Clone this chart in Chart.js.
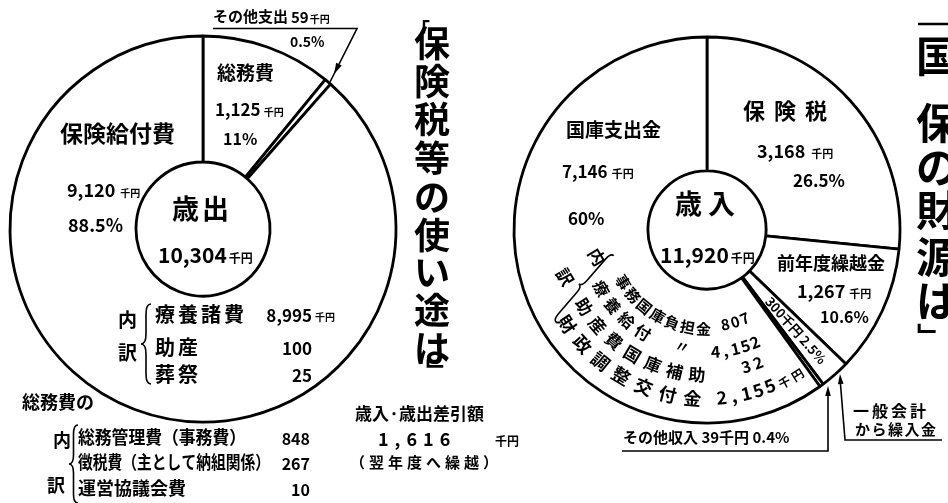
<!DOCTYPE html>
<html>
<head>
<meta charset="utf-8">
<script src="https://cdn.jsdelivr.net/npm/chart.js@4/dist/chart.umd.min.js"></script>
<style>
  html, body { margin: 0; padding: 0; background: #fff; }
  #wrap { position: relative; width: 948px; height: 503px; overflow: hidden; }
  #wrap canvas { position: absolute; left: 0; top: 0; }
</style>
</head>
<body>
<div id="wrap">
  <canvas id="outChart" width="948" height="503" style="width:948px;height:503px"></canvas>
  <canvas id="inChart" width="948" height="503" style="width:948px;height:503px"></canvas>
</div>
<script>
const FONT = '"Noto Sans CJK JP", "Noto Sans", sans-serif';

// 歳出
const outLabels = ['総務費', 'その他支出', '保険給付費'];
const outValues = [1125, 59, 9120];
const outPct = ['11%', '0.5%', '88.5%'];
const outTotal = 10304;
// 保険給付費の内訳
const kyufuItems = ['療養諸費', '助産', '葬祭'];
const kyufuValues = [8995, 100, 25];
// 総務費の内訳
const somuItems = ['総務管理費（事務費）', '徴税費（主として納組関係）', '運営協議会費'];
const somuValues = [848, 267, 10];
const balance = 1616;

// 歳入
const inLabels = ['保険税', '前年度繰越金', '一般会計から繰入金', 'その他収入', '国庫支出金'];
const inValues = [3168, 1267, 300, 39, 7146];
const inPct = ['26.5%', '10.6%', '2.5%', '0.4%', '60%'];
const inTotal = 11920;
// 国庫支出金の内訳
const kokkoItems = ['事務国庫負担金', '療養給付', '助産費国庫補助', '財政調整交付金'];
const kokkoValues = [807, 4152, 32, 2155];

const titleOut = '保険税等の使い途は';
const titleIn = '国保の財源は';

function fmt(n) { return n.toLocaleString('en-US'); }

function put(ctx, s, x, y, size, o = {}) {
  ctx.font = `700 ${size}px ${FONT}`;
  ctx.textAlign = o.align || 'left';
  ctx.textBaseline = 'alphabetic';
  if (o.sp) {
    let cx = x;
    ctx.textAlign = 'left';
    for (const ch of s) {
      ctx.fillText(ch, cx, y);
      cx += ctx.measureText(ch).width + o.sp;
    }
    return cx - o.sp;
  }
  const w = ctx.measureText(s).width;
  if (o.max) ctx.fillText(s, x, y, o.max); else ctx.fillText(s, x, y);
  return x + (o.max ? Math.min(o.max, w) : w);
}

function money(ctx, n, x, y, size, usize, gap) {
  const e = put(ctx, fmt(n), x, y, size);
  return put(ctx, '千円', e + (gap || 2), y, usize);
}

function line(ctx, pts) {
  ctx.beginPath();
  ctx.moveTo(pts[0][0], pts[0][1]);
  for (let i = 1; i < pts.length; i++) ctx.lineTo(pts[i][0], pts[i][1]);
  ctx.stroke();
}

function arrow(ctx, x, y, ang, len) {
  ctx.save();
  ctx.translate(x, y);
  ctx.rotate(ang);
  ctx.beginPath();
  ctx.moveTo(0, 0);
  ctx.lineTo(-len, -len / 3.5);
  ctx.lineTo(-len, len / 3.5);
  ctx.closePath();
  ctx.fill();
  ctx.restore();
}

function brace(ctx, x, y, len, d, ang) {
  ctx.save();
  ctx.translate(x, y);
  ctx.rotate(ang);
  const h = len / 2, q = Math.min(d, h / 3);
  ctx.beginPath();
  ctx.moveTo(-h, 0);
  ctx.quadraticCurveTo(-h, d / 2, -h + q, d / 2);
  ctx.lineTo(-q, d / 2);
  ctx.quadraticCurveTo(0, d / 2, 0, d);
  ctx.quadraticCurveTo(0, d / 2, q, d / 2);
  ctx.lineTo(h - q, d / 2);
  ctx.quadraticCurveTo(h, d / 2, h, 0);
  ctx.stroke();
  ctx.restore();
}

function rotText(ctx, s, x, y, size, deg) {
  ctx.save();
  ctx.translate(x, y);
  ctx.rotate(deg * Math.PI / 180);
  ctx.font = `700 ${size}px ${FONT}`;
  ctx.textAlign = 'center';
  ctx.textBaseline = 'middle';
  ctx.fillText(s, 0, 0);
  ctx.restore();
}

// text on the lower arc, char centres spread from angle a0 to a1 (deg, clockwise from top)
function arcText(ctx, c, s, r, a0, a1, size) {
  const chars = [...s];
  const n = chars.length;
  chars.forEach((ch, i) => {
    const a = n > 1 ? a0 + (a1 - a0) * i / (n - 1) : a0;
    const t = a * Math.PI / 180;
    rotText(ctx, ch, c.x + r * Math.sin(t), c.y - r * Math.cos(t), size, a - 180);
  });
}

function vertical(ctx, s, x, ys, size) {
  ctx.font = `700 ${size}px ${FONT}`;
  ctx.textAlign = 'center';
  ctx.textBaseline = 'middle';
  [...s].forEach((ch, i) => ctx.fillText(ch, x, ys[i]));
}

const outText = {
  id: 'outText',
  afterDraw(chart) {
    const ctx = chart.ctx;
    ctx.save();
    ctx.fillStyle = '#000';
    ctx.strokeStyle = '#000';
    ctx.lineWidth = 1.6;

    // その他支出
    let e = put(ctx, outLabels[1], 213, 22, 15);
    e = put(ctx, String(outValues[1]), e + 3, 23, 15);
    put(ctx, '千円', e + 1, 23, 10);
    put(ctx, outPct[1], 290, 47, 14);
    line(ctx, [[213, 28.5], [357, 28.5], [329, 84]]);
    arrow(ctx, 334, 74, Math.atan2(55, -28), 11);

    // 総務費
    put(ctx, outLabels[0], 217, 80, 19);
    money(ctx, outValues[0], 215, 116, 17, 10, 3);
    put(ctx, outPct[0], 223, 145, 16);

    // 保険給付費
    put(ctx, outLabels[2], 60, 142, 23);
    money(ctx, outValues[2], 67, 197, 18, 10, 5);
    put(ctx, outPct[2], 68, 232, 18);

    // centre
    put(ctx, '歳', 172, 219, 27);
    put(ctx, '出', 202, 219, 27);
    money(ctx, outTotal, 158, 263, 21, 12, 2);

    // 内訳 (保険給付費)
    put(ctx, '内', 118, 327, 19);
    put(ctx, '訳', 118, 360, 19);
    brace(ctx, 151, 344, 80, 10, Math.PI / 2);
    const ky = [322, 355, 382];
    kyufuItems.forEach((s, i) => {
      put(ctx, s, 155, ky[i], 20, { sp: 3 });
      put(ctx, fmt(kyufuValues[i]), 312, ky[i], 17, { align: 'right' });
    });
    put(ctx, '千円', 315, 321, 10);

    // 総務費の内訳
    put(ctx, outLabels[0] + 'の', 22, 409, 18);
    put(ctx, '内', 53, 447, 18);
    put(ctx, '訳', 47, 492, 18);
    brace(ctx, 78, 464, 78, 9, Math.PI / 2);
    const sy = [444, 469, 495];
    const sw = [168, 192, 130];
    somuItems.forEach((s, i) => {
      put(ctx, s, 78, sy[i], 18, { max: sw[i] });
      put(ctx, fmt(somuValues[i]), 310, sy[i] + 1, 16, { align: 'right' });
    });

    // 差引額
    put(ctx, '歳入·歳出差引額', 355, 420, 17, { max: 165 });
    put(ctx, fmt(balance), 378, 446, 18, { sp: 6 });
    put(ctx, '千円', 495, 446, 12);
    put(ctx, '（翌年度へ繰越）', 350, 468, 15, { sp: 4 });

    // title
    vertical(ctx, titleOut, 432, [43, 81, 119, 158, 197, 235, 272, 310, 348], 36);
    put(ctx, '「', 410, 38, 20);
    ctx.font = `700 24px ${FONT}`;
    ctx.fillText('﹂', 426, 380);
    ctx.restore();
  }
};

const inText = {
  id: 'inText',
  afterDraw(chart) {
    const ctx = chart.ctx;
    const c = chart.getDatasetMeta(0).data[0];
    ctx.save();
    ctx.fillStyle = '#000';
    ctx.strokeStyle = '#000';
    ctx.lineWidth = 1.6;

    // 国庫支出金
    put(ctx, inLabels[4], 566, 137, 19);
    money(ctx, inValues[4], 562, 178, 17, 11, 4);
    put(ctx, inPct[4], 568, 225, 17);

    // 保険税
    put(ctx, inLabels[0], 743, 119, 22, { sp: 9 });
    money(ctx, inValues[0], 757, 158, 18, 11, 6);
    put(ctx, inPct[0], 793, 187, 17);

    // centre
    put(ctx, '歳', 675, 214, 27);
    put(ctx, '入', 708, 214, 27);
    money(ctx, inTotal, 660, 263, 21, 12, 2);

    // 前年度繰越金
    put(ctx, inLabels[1], 777, 270, 18);
    money(ctx, inValues[1], 797, 298, 18, 11, 4);
    put(ctx, inPct[1], 820, 323, 16);

    // 一般会計から繰入金: label runs along the middle of its narrow band
    const mid = (inValues[0] + inValues[1] + inValues[2] / 2) / inTotal * 360;
    const mt = mid * Math.PI / 180;
    rotText(ctx, `${inValues[2]}千円 ${inPct[2]}`,
      c.x + 134 * Math.sin(mt), c.y - 134 * Math.cos(mt), 13, mid - 90);

    // 国庫支出金の内訳 on arcs
    arcText(ctx, c, kokkoItems[0], 99, 238, 182, 15);
    arcText(ctx, c, fmt(kokkoValues[0]), 96, 169, 157, 15);
    arcText(ctx, c, kokkoItems[1], 121, 241, 212, 16);
    arcText(ctx, c, '〃', 119, 192, 192, 15);
    arcText(ctx, c, fmt(kokkoValues[1]), 122, 176, 157, 16);
    arcText(ctx, c, kokkoItems[2], 145, 238, 184, 17);
    arcText(ctx, c, fmt(kokkoValues[2]), 142, 164, 159, 16);
    arcText(ctx, c, kokkoItems[3], 169, 236, 185, 18);
    arcText(ctx, c, fmt(kokkoValues[3]), 168, 175, 158, 18);
    arcText(ctx, c, '千円', 171, 153, 148, 12);
    rotText(ctx, '内', 597, 257, 17, 59);
    rotText(ctx, '訳', 565, 277, 17, 59);
    brace(ctx, 585, 289, 88, 8, Math.atan2(65, -56));

    // その他収入
    put(ctx, `${inLabels[3]} ${inValues[3]}千円 ${inPct[3]}`, 623, 443, 15, { max: 190 });
    line(ctx, [[622, 451], [828, 451], [828, 390]]);
    arrow(ctx, 828, 386, -Math.PI / 2, 10);

    // 一般会計から繰入金
    put(ctx, '一般会計', 853, 417, 16, { sp: 3 });
    put(ctx, 'から繰入金', 855, 435, 15, { sp: 1.5 });
    line(ctx, [[942, 440], [845, 440], [840, 378]]);
    arrow(ctx, 840, 374, Math.atan2(-66, -5), 10);

    // title
    vertical(ctx, titleIn, 937, [56, 123, 167, 210, 257, 301], 42);
    ctx.lineWidth = 2.5;
    line(ctx, [[918, 24], [948, 24]]);
    ctx.font = `700 26px ${FONT}`;
    ctx.fillText('﹂', 930, 336);
    ctx.restore();
  }
};

function ringOptions(padding) {
  return {
    responsive: false,
    animation: false,
    radius: 193,
    cutout: 70,
    layout: { padding: padding },
    plugins: { legend: { display: false }, tooltip: { enabled: false } }
  };
}

new Chart(document.getElementById('outChart'), {
  type: 'doughnut',
  data: {
    labels: outLabels,
    datasets: [{
      data: outValues,
      backgroundColor: '#fff',
      borderColor: '#000',
      borderWidth: 2.8
    }]
  },
  options: ringOptions({ left: 0, right: 542, top: 0, bottom: 45 }),
  plugins: [outText]
});

new Chart(document.getElementById('inChart'), {
  type: 'doughnut',
  data: {
    labels: inLabels,
    datasets: [{
      data: inValues,
      backgroundColor: '#fff',
      borderColor: '#000',
      borderWidth: 2.8
    }]
  },
  options: ringOptions({ left: 466, right: 0, top: 0, bottom: 43 }),
  plugins: [inText]
});
</script>
</body>
</html>
